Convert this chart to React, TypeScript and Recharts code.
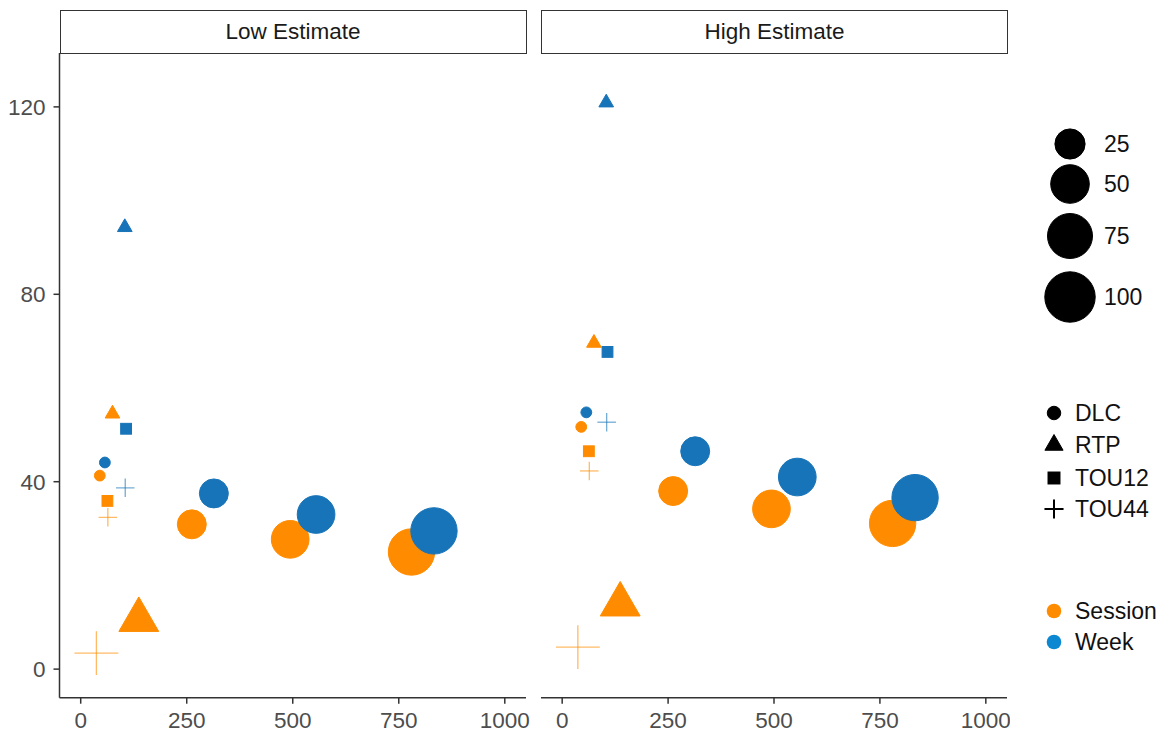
import React from 'react'
import { ScatterChart, Scatter, XAxis, YAxis, ZAxis } from 'recharts'

// one row per plotted point; the same points appear in both facets
const panels = ['Low Estimate', 'High Estimate']
const mechanisms = ['DLC', 'RTP', 'TOU12', 'TOU44']
const groups = ['Session', 'Week']

const pointMechanism = ['DLC', 'DLC', 'DLC', 'DLC', 'DLC', 'DLC', 'DLC', 'DLC', 'RTP', 'RTP', 'RTP', 'TOU12', 'TOU12', 'TOU44', 'TOU44', 'TOU44']
const pointGroup = ['Session', 'Session', 'Session', 'Session', 'Week', 'Week', 'Week', 'Week', 'Session', 'Session', 'Week', 'Session', 'Week', 'Session', 'Session', 'Week']
const pointX = [45, 262, 494, 780, 57, 314, 555, 833, 75, 137, 104, 63, 107, 64, 37, 105]
const pointSize = [0.04, 22, 47, 81, 0.04, 22, 47, 81, 0.05, 23.5, 0.05, 0.3, 0.3, 0.6, 27, 0.6]
const lowValues = [41.3, 30.9, 27.7, 25.0, 44.1, 37.5, 33.0, 29.5, 54.5, 10.5, 94.3, 35.9, 51.3, 32.4, 3.4, 38.7]
const highValues = [51.7, 38.0, 34.2, 31.1, 54.8, 46.5, 41.0, 36.6, 69.6, 13.8, 120.9, 46.5, 67.7, 42.3, 4.7, 52.7]

const xTicks = [0, 250, 500, 750, 1000]
const yTicks = [0, 40, 80, 120]
const sizeBreaks = [25, 50, 75, 100]

const X_DOMAIN: [number, number] = [-50, 1050]
const Y_DOMAIN: [number, number] = [-6.1, 131.5]
const SIZE_DOMAIN: [number, number] = [0, 100]
const SIZE_RANGE: [number, number] = [10, 50.4] // marker diameter in px (sqrt scale, like ggplot)

const ORANGE = '#FF8C00'
const BLUE = '#1874B8'
const BLUE_KEY = '#0C88D2'
const AXIS = '#333333'
const FONT = '"Liberation Sans", Arial, sans-serif'

const groupColor = (g: string) => (g === 'Session' ? ORANGE : BLUE)

// mirrors the ZAxis sqrt scale, only used for the legend keys
const sizeToDiameter = (v: number) =>
  SIZE_RANGE[0] + (SIZE_RANGE[1] - SIZE_RANGE[0]) * Math.sqrt(v / SIZE_DOMAIN[1])

function buildRows(values: number[], group: string) {
  return pointX
    .map((x, i) => ({ x, y: values[i], z: pointSize[i], mechanism: pointMechanism[i], group: pointGroup[i] }))
    .filter((r) => r.group === group)
}

function Glyph({ mechanism, cx, cy, d, color, legend = false }: any) {
  const R = d / 2
  if (mechanism === 'RTP') {
    const top = cy - 1.5551 * R
    const hx = 1.3468 * R
    const base = cy + 0.7776 * R
    return (
      <polygon
        points={`${cx},${top} ${cx + hx},${base} ${cx - hx},${base}`}
        fill={color}
        stroke={color}
        strokeWidth={1}
      />
    )
  }
  if (mechanism === 'TOU12') {
    const s = 1.7725 * R
    return <rect x={cx - s / 2} y={cy - s / 2} width={s} height={s} fill={color} stroke={color} strokeWidth={1} />
  }
  if (mechanism === 'TOU44') {
    const a = 1.4142 * R
    return (
      <g stroke={color} strokeWidth={legend ? 2 : 1.3} strokeOpacity={legend ? 1 : 0.6}>
        <line x1={cx - a} y1={cy} x2={cx + a} y2={cy} />
        <line x1={cx} y1={cy - a} x2={cx} y2={cy + a} />
      </g>
    )
  }
  return <circle cx={cx} cy={cy} r={R} fill={color} stroke={color} strokeWidth={1} />
}

const renderMark = (props: any) => {
  const { cx, cy, payload } = props
  const d = typeof props.size === 'number' ? props.size : Math.PI * Math.pow(props.width / 2, 2)
  return <Glyph mechanism={payload.mechanism} cx={cx} cy={cy} d={d} color={groupColor(payload.group)} />
}

const tickStyle = { fill: '#4D4D4D', fontSize: 22.5, fontFamily: FONT }

function Panel({ values, showY }: { values: number[]; showY: boolean }) {
  return (
    <ScatterChart
      width={showY ? 530 : 480}
      height={732}
      margin={showY ? { top: 53, right: 4, bottom: 0, left: 0 } : { top: 53, right: 3, bottom: 0, left: 11 }}
    >
      <XAxis
        type="number"
        dataKey="x"
        domain={X_DOMAIN}
        ticks={xTicks}
        allowDataOverflow
        height={34.3}
        tickSize={6}
        tickMargin={8}
        axisLine={{ stroke: AXIS, strokeWidth: 1.5 }}
        tickLine={{ stroke: AXIS, strokeWidth: 1.5 }}
        tick={tickStyle}
      />
      <YAxis
        type="number"
        dataKey="y"
        domain={Y_DOMAIN}
        ticks={yTicks}
        allowDataOverflow
        hide={!showY}
        width={59.5}
        tickSize={6}
        tickMargin={8}
        axisLine={{ stroke: AXIS, strokeWidth: 1.5 }}
        tickLine={{ stroke: AXIS, strokeWidth: 1.5 }}
        tick={tickStyle}
      />
      <ZAxis type="number" dataKey="z" domain={SIZE_DOMAIN} range={SIZE_RANGE} scale="sqrt" />
      {groups.map((g) => (
        <Scatter key={g} name={g} data={buildRows(values, g)} shape={renderMark} isAnimationActive={false} />
      ))}
    </ScatterChart>
  )
}

function Strip({ left, label }: { left: number; label: string }) {
  return (
    <div
      style={{
        position: 'absolute',
        left,
        top: 9.5,
        width: 467,
        height: 44.5,
        boxSizing: 'border-box',
        border: `1.5px solid ${AXIS}`,
        background: '#fff',
        display: 'flex',
        alignItems: 'center',
        justifyContent: 'center',
        fontFamily: FONT,
        fontSize: 22.5,
        color: '#1A1A1A',
      }}
    >
      {label}
    </div>
  )
}

function LegendRow({ top, glyphX, textX, box, children, label }: any) {
  return (
    <>
      <svg
        style={{ position: 'absolute', left: glyphX - box / 2, top: top - box / 2, overflow: 'visible' }}
        width={box}
        height={box}
      >
        {children(box / 2)}
      </svg>
      <div
        style={{
          position: 'absolute',
          left: textX,
          top: top - 14,
          height: 28,
          lineHeight: '28px',
          fontFamily: FONT,
          fontSize: 23,
          color: '#111',
          whiteSpace: 'nowrap',
        }}
      >
        {label}
      </div>
    </>
  )
}

const sizeRowY = [144, 184, 236, 297]
const shapeRowY = [413, 445, 478, 509]
const colorRowY = [611, 642]

export default function App() {
  return (
    <div style={{ position: 'absolute', left: 0, top: 0, width: 1159, height: 732, background: '#fff' }}>
      <div style={{ position: 'absolute', left: 0, top: 0 }}>
        <Panel values={lowValues} showY />
      </div>
      <div style={{ position: 'absolute', left: 530, top: 0 }}>
        <Panel values={highValues} showY={false} />
      </div>
      <Strip left={59.5} label={panels[0]} />
      <Strip left={541} label={panels[1]} />

      {sizeBreaks.map((v, i) => (
        <LegendRow key={v} top={sizeRowY[i]} glyphX={1070} textX={1104} box={60} label={String(v)}>
          {(c: number) => <Glyph mechanism="DLC" cx={c} cy={c} d={sizeToDiameter(v)} color="#000" />}
        </LegendRow>
      ))}
      {mechanisms.map((m, i) => (
        <LegendRow key={m} top={shapeRowY[i]} glyphX={1054} textX={1075} box={30} label={m}>
          {(c: number) => <Glyph mechanism={m} cx={c} cy={c} d={13.5} color="#000" legend />}
        </LegendRow>
      ))}
      {groups.map((g, i) => (
        <LegendRow key={g} top={colorRowY[i]} glyphX={1054} textX={1075} box={30} label={g}>
          {(c: number) => <circle cx={c} cy={c} r={7.3} fill={g === 'Session' ? ORANGE : BLUE_KEY} />}
        </LegendRow>
      ))}
    </div>
  )
}
